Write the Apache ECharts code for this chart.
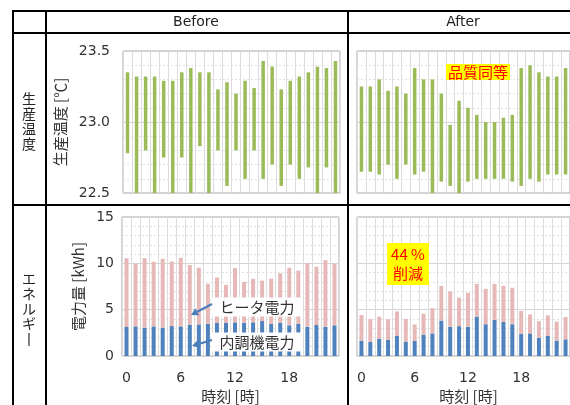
<!DOCTYPE html>
<html>
<head>
<meta charset="utf-8">
<script src="https://cdn.jsdelivr.net/npm/echarts@6/dist/echarts.min.js"></script>
<style>
  html, body { margin: 0; padding: 0; background: #fff; }
  #chart { width: 570px; height: 405px; }
</style>
</head>
<body>
<div id="chart"></div>
<script>
// hours of the day
const hours = Array.from({ length: 24 }, (_, i) => String(i));

// production temperature range [°C], before / after
const tempBeforeMin = [22.78, 22.5, 22.8, 22.5, 22.75, 22.5, 22.75, 22.5, 22.83, 22.5, 22.8, 22.55,
  22.8, 22.6, 22.8, 22.6, 22.7, 22.55, 22.7, 22.6, 22.68, 22.5, 22.68, 22.5];
const tempBeforeMax = [23.35, 23.32, 23.32, 23.32, 23.29, 23.29, 23.35, 23.38, 23.35, 23.35, 23.23, 23.28,
  23.2, 23.29, 23.24, 23.43, 23.39, 23.23, 23.29, 23.32, 23.35, 23.39, 23.38, 23.43];
const tempAfterMin = [22.65, 22.65, 22.63, 22.7, 22.6, 22.7, 22.63, 22.65, 22.5, 22.58, 22.55, 22.5,
  22.58, 22.6, 22.6, 22.6, 22.6, 22.58, 22.55, 22.6, 22.58, 22.63, 22.63, 22.63];
const tempAfterMax = [23.25, 23.25, 23.3, 23.22, 23.25, 23.2, 23.38, 23.3, 23.3, 23.2, 22.98, 23.15,
  23.1, 23.05, 23.0, 23.0, 23.03, 23.05, 23.38, 23.4, 23.35, 23.32, 23.32, 23.38];

// electric energy [kWh]: air handling unit (blue) and total incl. heater
const ahuBefore = [3.13, 3.2, 3.06, 3.2, 3.06, 3.23, 3.2, 3.38, 3.41, 3.45, 3.56, 3.56,
  3.63, 3.59, 3.63, 3.77, 3.45, 3.59, 3.31, 3.45, 3.16, 3.34, 3.16, 3.31];
const totalBefore = [10.56, 9.95, 10.56, 10.17, 10.49, 10.2, 10.59, 9.81, 9.53, 7.78, 8.46, 7.68,
  9.49, 8.0, 8.32, 8.14, 8.35, 8.92, 9.53, 9.21, 10.02, 9.63, 10.34, 9.95];
const ahuAfter = [1.66, 1.52, 1.87, 1.73, 2.16, 1.56, 1.63, 2.3, 2.44, 3.82, 3.15, 3.22,
  3.15, 4.25, 3.43, 3.89, 3.68, 3.43, 2.37, 2.44, 1.95, 2.16, 1.66, 1.8];
const totalAfter = [4.42, 4.0, 4.25, 3.96, 4.81, 4.0, 3.4, 4.56, 5.17, 7.57, 6.97, 6.3,
  6.83, 7.78, 7.25, 7.78, 7.57, 7.36, 4.85, 4.49, 3.75, 4.39, 3.71, 4.21];

const latin = 'DejaVu Sans, Noto Sans CJK JP';
const cjk = 'Noto Sans CJK JP';
const green = '#9bbb59';
const pink = '#e6b9b8';
const blue = '#4f81bd';

const chart = echarts.init(document.getElementById('chart'));

const grids = [
  { left: 123, top: 51, width: 217, height: 142 },
  { left: 357, top: 51, width: 217, height: 142 },
  { left: 122, top: 217, width: 217, height: 140 },
  { left: 357, top: 217, width: 217, height: 140 }
].map(g => ({ ...g, show: true, borderColor: '#a6a6a6', borderWidth: 1 }));

function xAxis(idx, withLabels, nameShift) {
  return {
    type: 'category',
    gridIndex: idx,
    data: hours,
    axisTick: { show: false },
    axisLine: { show: false },
    axisLabel: {
      show: withLabels,
      interval: 5,
      margin: 15,
      color: '#333',
      fontSize: 14,
      fontFamily: latin
    },
    splitLine: { show: true, interval: 0, lineStyle: { color: '#dcdcdc', width: 1 } },
    name: withLabels ? '時刻 [時]' : '',
    nameLocation: 'middle',
    nameGap: 33,
    nameTextStyle: { color: '#333', fontSize: 15, fontFamily: cjk, padding: [0, 0, 0, nameShift || 0] }
  };
}

function yAxis(idx, min, max, interval, name, nameGap, showLabels, labelMargin, digits) {
  return {
    type: 'value',
    gridIndex: idx,
    min, max, interval,
    axisLine: { show: false },
    axisTick: { show: false },
    axisLabel: {
      show: showLabels,
      margin: labelMargin,
      color: '#333',
      fontSize: 14,
      fontFamily: latin,
      formatter: v => v.toFixed(digits)
    },
    splitLine: { show: true, lineStyle: { color: '#d4d4d4' } },
    minorTick: { show: false, splitNumber: 5 },
    minorSplitLine: { show: true, lineStyle: { color: '#e2e2e2', type: [2, 2] } },
    name: showLabels ? name : '',
    nameLocation: 'middle',
    nameGap,
    nameTextStyle: { color: '#333', fontSize: 15, fontFamily: cjk }
  };
}

function rangeSeries(idx, lo, hi) {
  return [
    {
      type: 'bar', xAxisIndex: idx, yAxisIndex: idx, stack: 't' + idx,
      barWidth: 3.5, silent: true,
      itemStyle: { color: 'transparent' },
      data: lo
    },
    {
      type: 'bar', xAxisIndex: idx, yAxisIndex: idx, stack: 't' + idx,
      barWidth: 3.5,
      itemStyle: { color: green },
      data: hi.map((v, i) => +(v - lo[i]).toFixed(3))
    }
  ];
}

function energySeries(idx, ahu, total) {
  return [
    {
      name: '内調機電力', type: 'bar', xAxisIndex: idx, yAxisIndex: idx, stack: 'e' + idx,
      barWidth: 4, itemStyle: { color: blue }, data: ahu
    },
    {
      name: 'ヒータ電力', type: 'bar', xAxisIndex: idx, yAxisIndex: idx, stack: 'e' + idx,
      barWidth: 4, itemStyle: { color: pink },
      data: total.map((v, i) => +(v - ahu[i]).toFixed(3))
    }
  ];
}

function line(x1, y1, x2, y2) {
  return { type: 'line', shape: { x1, y1, x2, y2 }, style: { stroke: '#000', lineWidth: 2 }, z: 100 };
}

function arrow(x1, y1, x2, y2) {
  const a = Math.atan2(y2 - y1, x2 - x1);
  const len = 7, w = 4;
  const bx = x2 - len * Math.cos(a), by = y2 - len * Math.sin(a);
  const nx = -Math.sin(a) * w, ny = Math.cos(a) * w;
  return [
    { type: 'line', shape: { x1, y1, x2: bx, y2: by }, style: { stroke: '#4a7ebb', lineWidth: 2 }, z: 101 },
    { type: 'polygon', shape: { points: [[x2, y2], [bx + nx, by + ny], [bx - nx, by - ny]] },
      style: { fill: '#4a7ebb' }, z: 101 }
  ];
}

const graphic = [
  line(12, 11, 580, 11),
  line(12, 33, 580, 33),
  line(12, 205, 580, 205),
  line(13, 10, 13, 410),
  line(46, 10, 46, 410),
  line(348, 10, 348, 410),
  { type: 'text', x: 196, y: 22, style: { text: 'Before', font: '14px ' + latin, fill: '#222', align: 'center', verticalAlign: 'middle' } },
  { type: 'text', x: 463, y: 22, style: { text: 'After', font: '14px ' + latin, fill: '#222', align: 'center', verticalAlign: 'middle' } },
  { type: 'text', x: 29, y: 121, style: { text: '生\n産\n温\n度', font: '14px ' + cjk, lineHeight: 15, fill: '#222', align: 'center', verticalAlign: 'middle' } },
  { type: 'text', x: 29, y: 309, style: { text: 'エ\nネ\nル\nギ\n丨', font: '14px ' + cjk, lineHeight: 15, fill: '#222', align: 'center', verticalAlign: 'middle' } },
  { type: 'text', x: 478, y: 72, z: 50, style: { text: '品質同等', font: '15px ' + cjk, fill: '#ff0000', backgroundColor: '#ffff00', padding: [1, 2, 0, 2], align: 'center', verticalAlign: 'middle' } },
  { type: 'text', x: 408, y: 264, z: 50, style: { text: '44 %\n削減', font: '15px ' + cjk, lineHeight: 19, fill: '#ff0000', backgroundColor: '#ffff00', padding: [2, 4, 2, 4], align: 'center', verticalAlign: 'middle' } },
  { type: 'text', x: 257, y: 307, z: 50, style: { text: 'ヒータ電力', font: '15px ' + cjk, fill: '#333', backgroundColor: '#fff', padding: [2, 8, 2, 8], align: 'center', verticalAlign: 'middle' } },
  { type: 'text', x: 257, y: 342, z: 50, style: { text: '内調機電力', font: '15px ' + cjk, fill: '#333', backgroundColor: '#fff', padding: [2, 8, 2, 8], align: 'center', verticalAlign: 'middle' } },
  ...arrow(212, 304, 191, 315),
  ...arrow(212, 340, 192, 346)
];

chart.setOption({
  animation: false,
  grid: grids,
  xAxis: [xAxis(0, false), xAxis(1, false), xAxis(2, true, 0), xAxis(3, true, 10)],
  yAxis: [
    yAxis(0, 22.5, 23.5, 0.5, '生産温度 [℃]', 55, true, 13, 1),
    yAxis(1, 22.5, 23.5, 0.5, '', 0, false, 13, 1),
    yAxis(2, 0, 15, 5, '電力量 [kWh]', 36, true, 8, 0),
    yAxis(3, 0, 15, 5, '', 0, false, 8, 0)
  ],
  series: [
    ...rangeSeries(0, tempBeforeMin, tempBeforeMax),
    ...rangeSeries(1, tempAfterMin, tempAfterMax),
    ...energySeries(2, ahuBefore, totalBefore),
    ...energySeries(3, ahuAfter, totalAfter)
  ],
  graphic
});
</script>
</body>
</html>
